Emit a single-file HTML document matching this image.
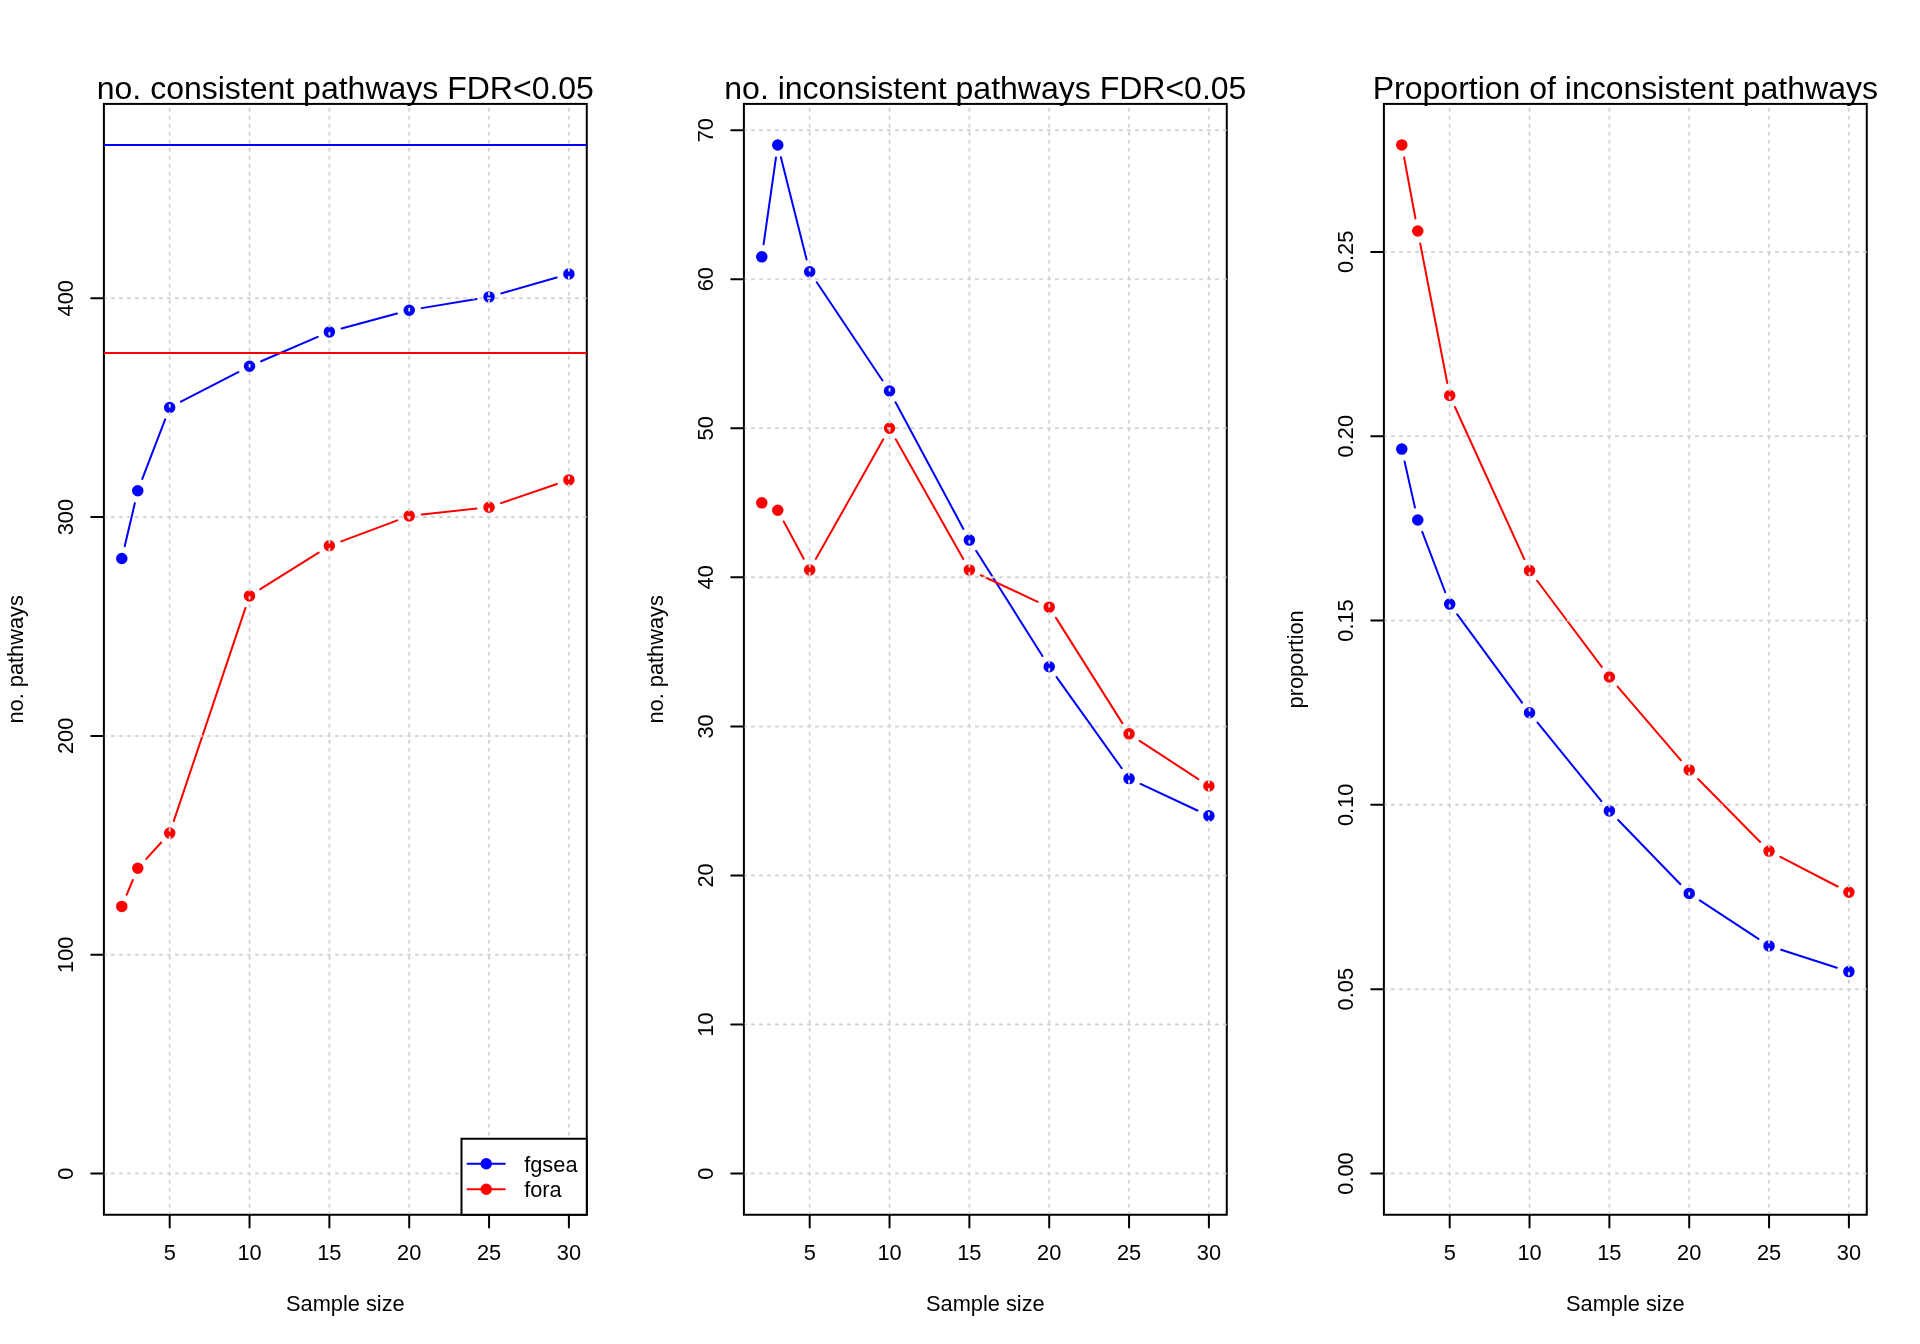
<!DOCTYPE html><html><head><meta charset="utf-8"><style>html,body{margin:0;padding:0;background:#fff;}svg{display:block;will-change:transform;}</style></head><body>
<svg width="1920" height="1344" viewBox="0 0 1920 1344" style="font-family:'Liberation Sans', sans-serif">
<rect width="1920" height="1344" fill="#fff"/>
<defs><clipPath id="clip0"><rect x="103.91" y="103.91" width="482.87" height="1110.84"/></clipPath><clipPath id="clip1"><rect x="743.91" y="103.91" width="482.87" height="1110.84"/></clipPath><clipPath id="clip2"><rect x="1383.91" y="103.91" width="482.87" height="1110.84"/></clipPath></defs>
<path d="M124.70 546.17L134.85 503.13M142.30 478.97L165.16 419.33M180.96 401.68L238.28 372.07M261.18 361.24L317.74 336.91M341.61 328.58L396.99 313.52M421.72 308.12L476.56 298.98M501.24 293.41L556.72 277.49" stroke="#0000ff" stroke-width="2" fill="none" stroke-linecap="round"/>
<circle cx="121.79" cy="558.50" r="4.75" fill="#0000ff" stroke="#0000ff" stroke-width="2"/>
<circle cx="137.76" cy="490.80" r="4.75" fill="#0000ff" stroke="#0000ff" stroke-width="2"/>
<circle cx="169.70" cy="407.50" r="4.75" fill="#0000ff" stroke="#0000ff" stroke-width="2"/>
<circle cx="249.54" cy="366.25" r="4.75" fill="#0000ff" stroke="#0000ff" stroke-width="2"/>
<circle cx="329.38" cy="331.90" r="4.75" fill="#0000ff" stroke="#0000ff" stroke-width="2"/>
<circle cx="409.22" cy="310.20" r="4.75" fill="#0000ff" stroke="#0000ff" stroke-width="2"/>
<circle cx="489.06" cy="296.90" r="4.75" fill="#0000ff" stroke="#0000ff" stroke-width="2"/>
<circle cx="568.90" cy="274.00" r="4.75" fill="#0000ff" stroke="#0000ff" stroke-width="2"/>
<path d="M126.69 894.71L132.86 879.99M146.28 858.91L161.18 842.49M173.74 821.09L245.50 607.91M260.27 589.16L318.64 552.54M341.24 541.36L397.35 520.34M421.81 514.54L476.46 508.61M501.04 503.14L556.91 484.01" stroke="#ff0000" stroke-width="2" fill="none" stroke-linecap="round"/>
<circle cx="121.79" cy="906.40" r="4.75" fill="#ff0000" stroke="#ff0000" stroke-width="2"/>
<circle cx="137.76" cy="868.30" r="4.75" fill="#ff0000" stroke="#ff0000" stroke-width="2"/>
<circle cx="169.70" cy="833.10" r="4.75" fill="#ff0000" stroke="#ff0000" stroke-width="2"/>
<circle cx="249.54" cy="595.90" r="4.75" fill="#ff0000" stroke="#ff0000" stroke-width="2"/>
<circle cx="329.38" cy="545.80" r="4.75" fill="#ff0000" stroke="#ff0000" stroke-width="2"/>
<circle cx="409.22" cy="515.90" r="4.75" fill="#ff0000" stroke="#ff0000" stroke-width="2"/>
<circle cx="489.06" cy="507.25" r="4.75" fill="#ff0000" stroke="#ff0000" stroke-width="2"/>
<circle cx="568.90" cy="479.90" r="4.75" fill="#ff0000" stroke="#ff0000" stroke-width="2"/>
<rect x="103.91" y="103.91" width="482.87" height="1110.84" fill="none" stroke="#000" stroke-width="2"/>
<line clip-path="url(#clip0)" x1="103.91" y1="145.05" x2="586.78" y2="145.05" stroke="#0000ff" stroke-width="2"/>
<line clip-path="url(#clip0)" x1="103.91" y1="352.95" x2="586.78" y2="352.95" stroke="#ff0000" stroke-width="2"/>
<path clip-path="url(#clip0)" d="M169.70 1214.75V103.91M249.54 1214.75V103.91M329.38 1214.75V103.91M409.22 1214.75V103.91M489.06 1214.75V103.91M568.90 1214.75V103.91M103.91 1173.61H586.78M103.91 954.77H586.78M103.91 735.93H586.78M103.91 517.09H586.78M103.91 298.24H586.78" stroke="#d3d3d3" stroke-width="2" fill="none" stroke-dasharray="2 6" stroke-linecap="round"/>
<rect x="461.5" y="1138.75" width="125.28" height="76.00" fill="#fff" stroke="#000" stroke-width="2"/>
<line x1="467.5" y1="1163.75" x2="504.8" y2="1163.75" stroke="#0000ff" stroke-width="2" stroke-linecap="round"/>
<circle cx="486.25" cy="1163.75" r="4.75" fill="#0000ff" stroke="#0000ff" stroke-width="2"/>
<text x="524.2" y="1171.70" font-size="21.8">fgsea</text>
<line x1="467.5" y1="1189.20" x2="504.8" y2="1189.20" stroke="#ff0000" stroke-width="2" stroke-linecap="round"/>
<circle cx="486.25" cy="1189.20" r="4.75" fill="#ff0000" stroke="#ff0000" stroke-width="2"/>
<text x="524.2" y="1196.70" font-size="21.8">fora</text>
<path d="M169.70 1214.75V1227.42M249.54 1214.75V1227.42M329.38 1214.75V1227.42M409.22 1214.75V1227.42M489.06 1214.75V1227.42M568.90 1214.75V1227.42M103.91 1173.61H91.24M103.91 954.77H91.24M103.91 735.93H91.24M103.91 517.09H91.24M103.91 298.24H91.24" stroke="#000" stroke-width="2" fill="none" stroke-linecap="round"/>
<text x="169.70" y="1259.7" font-size="21.8" text-anchor="middle">5</text>
<text x="249.54" y="1259.7" font-size="21.8" text-anchor="middle">10</text>
<text x="329.38" y="1259.7" font-size="21.8" text-anchor="middle">15</text>
<text x="409.22" y="1259.7" font-size="21.8" text-anchor="middle">20</text>
<text x="489.06" y="1259.7" font-size="21.8" text-anchor="middle">25</text>
<text x="568.90" y="1259.7" font-size="21.8" text-anchor="middle">30</text>
<text transform="translate(73.00 1173.61) rotate(-90)" font-size="21.8" text-anchor="middle">0</text>
<text transform="translate(73.00 954.77) rotate(-90)" font-size="21.8" text-anchor="middle">100</text>
<text transform="translate(73.00 735.93) rotate(-90)" font-size="21.8" text-anchor="middle">200</text>
<text transform="translate(73.00 517.09) rotate(-90)" font-size="21.8" text-anchor="middle">300</text>
<text transform="translate(73.00 298.24) rotate(-90)" font-size="21.8" text-anchor="middle">400</text>
<text x="345.34" y="1310.5" font-size="21.8" text-anchor="middle">Sample size</text>
<text transform="translate(23.20 659.33) rotate(-90)" font-size="21.8" text-anchor="middle">no. pathways</text>
<text x="345.34" y="98.6" font-size="32" text-anchor="middle">no. consistent pathways FDR&lt;0.05</text>
<path d="M763.59 244.31L775.97 157.60M780.86 157.34L806.60 259.47M816.75 282.29L882.49 380.48M895.52 402.18L963.39 528.91M976.13 550.80L1042.46 656.06M1056.58 677.10L1121.69 768.27M1140.54 783.94L1197.41 810.49" stroke="#0000ff" stroke-width="2" fill="none" stroke-linecap="round"/>
<circle cx="761.79" cy="256.85" r="4.75" fill="#0000ff" stroke="#0000ff" stroke-width="2"/>
<circle cx="777.76" cy="145.05" r="4.75" fill="#0000ff" stroke="#0000ff" stroke-width="2"/>
<circle cx="809.70" cy="271.76" r="4.75" fill="#0000ff" stroke="#0000ff" stroke-width="2"/>
<circle cx="889.54" cy="391.01" r="4.75" fill="#0000ff" stroke="#0000ff" stroke-width="2"/>
<circle cx="969.38" cy="540.08" r="4.75" fill="#0000ff" stroke="#0000ff" stroke-width="2"/>
<circle cx="1049.22" cy="666.79" r="4.75" fill="#0000ff" stroke="#0000ff" stroke-width="2"/>
<circle cx="1129.06" cy="778.59" r="4.75" fill="#0000ff" stroke="#0000ff" stroke-width="2"/>
<circle cx="1208.90" cy="815.85" r="4.75" fill="#0000ff" stroke="#0000ff" stroke-width="2"/>
<path d="M783.74 521.44L803.71 558.72M815.92 558.85L883.31 439.32M895.76 439.32L963.15 558.85M980.86 575.25L1037.73 601.80M1055.97 617.88L1122.30 723.14M1139.66 740.80L1198.29 779.11" stroke="#ff0000" stroke-width="2" fill="none" stroke-linecap="round"/>
<circle cx="761.79" cy="502.81" r="4.75" fill="#ff0000" stroke="#ff0000" stroke-width="2"/>
<circle cx="777.76" cy="510.27" r="4.75" fill="#ff0000" stroke="#ff0000" stroke-width="2"/>
<circle cx="809.70" cy="569.89" r="4.75" fill="#ff0000" stroke="#ff0000" stroke-width="2"/>
<circle cx="889.54" cy="428.28" r="4.75" fill="#ff0000" stroke="#ff0000" stroke-width="2"/>
<circle cx="969.38" cy="569.89" r="4.75" fill="#ff0000" stroke="#ff0000" stroke-width="2"/>
<circle cx="1049.22" cy="607.16" r="4.75" fill="#ff0000" stroke="#ff0000" stroke-width="2"/>
<circle cx="1129.06" cy="733.87" r="4.75" fill="#ff0000" stroke="#ff0000" stroke-width="2"/>
<circle cx="1208.90" cy="786.04" r="4.75" fill="#ff0000" stroke="#ff0000" stroke-width="2"/>
<rect x="743.91" y="103.91" width="482.87" height="1110.84" fill="none" stroke="#000" stroke-width="2"/>
<path clip-path="url(#clip1)" d="M809.70 1214.75V103.91M889.54 1214.75V103.91M969.38 1214.75V103.91M1049.22 1214.75V103.91M1129.06 1214.75V103.91M1208.90 1214.75V103.91M743.91 1173.61H1226.78M743.91 1024.54H1226.78M743.91 875.48H1226.78M743.91 726.41H1226.78M743.91 577.35H1226.78M743.91 428.28H1226.78M743.91 279.21H1226.78M743.91 130.15H1226.78" stroke="#d3d3d3" stroke-width="2" fill="none" stroke-dasharray="2 6" stroke-linecap="round"/>
<path d="M809.70 1214.75V1227.42M889.54 1214.75V1227.42M969.38 1214.75V1227.42M1049.22 1214.75V1227.42M1129.06 1214.75V1227.42M1208.90 1214.75V1227.42M743.91 1173.61H731.24M743.91 1024.54H731.24M743.91 875.48H731.24M743.91 726.41H731.24M743.91 577.35H731.24M743.91 428.28H731.24M743.91 279.21H731.24M743.91 130.15H731.24" stroke="#000" stroke-width="2" fill="none" stroke-linecap="round"/>
<text x="809.70" y="1259.7" font-size="21.8" text-anchor="middle">5</text>
<text x="889.54" y="1259.7" font-size="21.8" text-anchor="middle">10</text>
<text x="969.38" y="1259.7" font-size="21.8" text-anchor="middle">15</text>
<text x="1049.22" y="1259.7" font-size="21.8" text-anchor="middle">20</text>
<text x="1129.06" y="1259.7" font-size="21.8" text-anchor="middle">25</text>
<text x="1208.90" y="1259.7" font-size="21.8" text-anchor="middle">30</text>
<text transform="translate(713.00 1173.61) rotate(-90)" font-size="21.8" text-anchor="middle">0</text>
<text transform="translate(713.00 1024.54) rotate(-90)" font-size="21.8" text-anchor="middle">10</text>
<text transform="translate(713.00 875.48) rotate(-90)" font-size="21.8" text-anchor="middle">20</text>
<text transform="translate(713.00 726.41) rotate(-90)" font-size="21.8" text-anchor="middle">30</text>
<text transform="translate(713.00 577.35) rotate(-90)" font-size="21.8" text-anchor="middle">40</text>
<text transform="translate(713.00 428.28) rotate(-90)" font-size="21.8" text-anchor="middle">50</text>
<text transform="translate(713.00 279.21) rotate(-90)" font-size="21.8" text-anchor="middle">60</text>
<text transform="translate(713.00 130.15) rotate(-90)" font-size="21.8" text-anchor="middle">70</text>
<text x="985.35" y="1310.5" font-size="21.8" text-anchor="middle">Sample size</text>
<text transform="translate(663.20 659.33) rotate(-90)" font-size="21.8" text-anchor="middle">no. pathways</text>
<text x="985.35" y="98.6" font-size="32" text-anchor="middle">no. inconsistent pathways FDR&lt;0.05</text>
<path d="M1404.58 461.46L1414.98 507.64M1422.26 531.85L1445.20 592.25M1457.20 614.31L1522.04 702.59M1537.54 722.63L1601.38 801.07M1618.19 820.01L1680.40 884.29M1699.80 900.36L1758.47 938.94M1781.12 949.78L1836.83 967.72" stroke="#0000ff" stroke-width="2" fill="none" stroke-linecap="round"/>
<circle cx="1401.79" cy="449.10" r="4.75" fill="#0000ff" stroke="#0000ff" stroke-width="2"/>
<circle cx="1417.76" cy="520.00" r="4.75" fill="#0000ff" stroke="#0000ff" stroke-width="2"/>
<circle cx="1449.70" cy="604.10" r="4.75" fill="#0000ff" stroke="#0000ff" stroke-width="2"/>
<circle cx="1529.54" cy="712.80" r="4.75" fill="#0000ff" stroke="#0000ff" stroke-width="2"/>
<circle cx="1609.38" cy="810.90" r="4.75" fill="#0000ff" stroke="#0000ff" stroke-width="2"/>
<circle cx="1689.22" cy="893.40" r="4.75" fill="#0000ff" stroke="#0000ff" stroke-width="2"/>
<circle cx="1769.06" cy="945.90" r="4.75" fill="#0000ff" stroke="#0000ff" stroke-width="2"/>
<circle cx="1848.90" cy="971.60" r="4.75" fill="#0000ff" stroke="#0000ff" stroke-width="2"/>
<path d="M1404.11 157.36L1415.45 218.49M1420.18 243.39L1447.28 383.06M1454.96 407.03L1524.28 559.07M1537.14 580.74L1601.77 666.86M1617.64 686.61L1680.96 760.29M1698.10 778.94L1760.17 842.06M1780.32 856.91L1837.63 886.49" stroke="#ff0000" stroke-width="2" fill="none" stroke-linecap="round"/>
<circle cx="1401.79" cy="144.90" r="4.75" fill="#ff0000" stroke="#ff0000" stroke-width="2"/>
<circle cx="1417.76" cy="230.95" r="4.75" fill="#ff0000" stroke="#ff0000" stroke-width="2"/>
<circle cx="1449.70" cy="395.50" r="4.75" fill="#ff0000" stroke="#ff0000" stroke-width="2"/>
<circle cx="1529.54" cy="570.60" r="4.75" fill="#ff0000" stroke="#ff0000" stroke-width="2"/>
<circle cx="1609.38" cy="677.00" r="4.75" fill="#ff0000" stroke="#ff0000" stroke-width="2"/>
<circle cx="1689.22" cy="769.90" r="4.75" fill="#ff0000" stroke="#ff0000" stroke-width="2"/>
<circle cx="1769.06" cy="851.10" r="4.75" fill="#ff0000" stroke="#ff0000" stroke-width="2"/>
<circle cx="1848.90" cy="892.30" r="4.75" fill="#ff0000" stroke="#ff0000" stroke-width="2"/>
<rect x="1383.91" y="103.91" width="482.87" height="1110.84" fill="none" stroke="#000" stroke-width="2"/>
<path clip-path="url(#clip2)" d="M1449.70 1214.75V103.91M1529.54 1214.75V103.91M1609.38 1214.75V103.91M1689.22 1214.75V103.91M1769.06 1214.75V103.91M1848.90 1214.75V103.91M1383.91 1173.50H1866.78M1383.91 989.17H1866.78M1383.91 804.85H1866.78M1383.91 620.52H1866.78M1383.91 436.20H1866.78M1383.91 251.88H1866.78" stroke="#d3d3d3" stroke-width="2" fill="none" stroke-dasharray="2 6" stroke-linecap="round"/>
<path d="M1449.70 1214.75V1227.42M1529.54 1214.75V1227.42M1609.38 1214.75V1227.42M1689.22 1214.75V1227.42M1769.06 1214.75V1227.42M1848.90 1214.75V1227.42M1383.91 1173.50H1371.24M1383.91 989.17H1371.24M1383.91 804.85H1371.24M1383.91 620.52H1371.24M1383.91 436.20H1371.24M1383.91 251.88H1371.24" stroke="#000" stroke-width="2" fill="none" stroke-linecap="round"/>
<text x="1449.70" y="1259.7" font-size="21.8" text-anchor="middle">5</text>
<text x="1529.54" y="1259.7" font-size="21.8" text-anchor="middle">10</text>
<text x="1609.38" y="1259.7" font-size="21.8" text-anchor="middle">15</text>
<text x="1689.22" y="1259.7" font-size="21.8" text-anchor="middle">20</text>
<text x="1769.06" y="1259.7" font-size="21.8" text-anchor="middle">25</text>
<text x="1848.90" y="1259.7" font-size="21.8" text-anchor="middle">30</text>
<text transform="translate(1353.00 1173.50) rotate(-90)" font-size="21.8" text-anchor="middle">0.00</text>
<text transform="translate(1353.00 989.17) rotate(-90)" font-size="21.8" text-anchor="middle">0.05</text>
<text transform="translate(1353.00 804.85) rotate(-90)" font-size="21.8" text-anchor="middle">0.10</text>
<text transform="translate(1353.00 620.52) rotate(-90)" font-size="21.8" text-anchor="middle">0.15</text>
<text transform="translate(1353.00 436.20) rotate(-90)" font-size="21.8" text-anchor="middle">0.20</text>
<text transform="translate(1353.00 251.88) rotate(-90)" font-size="21.8" text-anchor="middle">0.25</text>
<text x="1625.35" y="1310.5" font-size="21.8" text-anchor="middle">Sample size</text>
<text transform="translate(1303.20 659.33) rotate(-90)" font-size="21.8" text-anchor="middle">proportion</text>
<text x="1625.35" y="98.6" font-size="32" text-anchor="middle">Proportion of inconsistent pathways</text>
</svg></body></html>
